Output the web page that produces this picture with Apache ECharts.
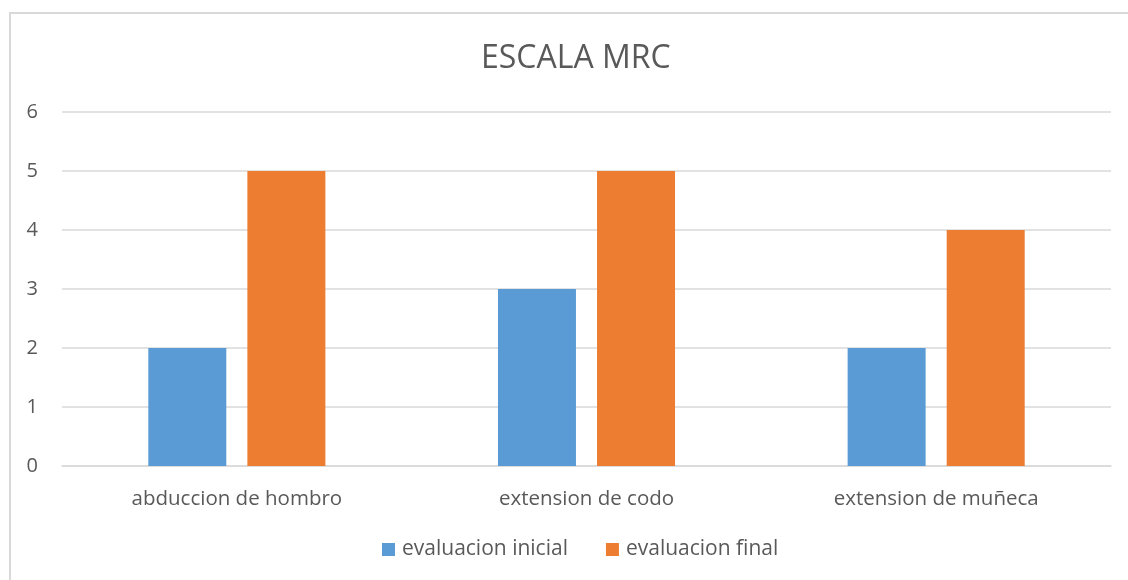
<!DOCTYPE html>
<html>
<head>
<meta charset="utf-8">
<script src="https://cdn.jsdelivr.net/npm/echarts@6/dist/echarts.min.js"></script>
<style>
html,body{margin:0;padding:0;background:#fff;overflow:hidden;}
#chart{width:1128px;height:580px;}
</style>
</head>
<body>
<div id="chart"></div>
<script>
const categories = ['abduccion de hombro', 'extension de codo', 'extension de muñeca'];
const inicial = [2, 3, 2];
const finalEval = [5, 5, 4];
const seriesNames = ['evaluacion inicial', 'evaluacion final'];
const yMin = 0, yMax = 6, yInterval = 1;

const FONT = '"Open Sans", sans-serif';
const chart = echarts.init(document.getElementById('chart'), null, {renderer: 'canvas'});
chart.setOption({
  animation: false,
  backgroundColor: '#ffffff',
  graphic: [{
    type: 'rect', z: -1, silent: true,
    shape: {x: 10, y: 13, width: 1300, height: 800},
    style: {fill: 'none', stroke: '#d9d9d9', lineWidth: 2}
  }],
  title: {
    text: 'ESCALA MRC', left: 476, top: 38,
    textStyle: {color: '#595959', fontFamily: FONT, fontSize: 32, fontWeight: 'normal'}
  },
  legend: {
    data: seriesNames, bottom: 15, left: 377, itemWidth: 13, itemHeight: 13, itemGap: 38,
    icon: 'rect',
    textStyle: {color: '#595959', fontFamily: FONT, fontSize: 21, padding: [0, 0, 0, 2]}
  },
  grid: {left: 62, right: 17, top: 112, bottom: 114, containLabel: false},
  xAxis: {
    type: 'category', data: categories,
    axisLine: {lineStyle: {color: '#d9d9d9', width: 1.5}},
    axisTick: {show: false},
    axisLabel: {color: '#595959', fontFamily: FONT, fontSize: 20.5, margin: 23}
  },
  yAxis: {
    type: 'value', min: yMin, max: yMax, interval: yInterval,
    axisLine: {show: false}, axisTick: {show: false},
    splitLine: {lineStyle: {color: '#d9d9d9', width: 1.5}},
    axisLabel: {color: '#595959', fontFamily: FONT, fontSize: 20, margin: 24}
  },
  series: [
    {name: seriesNames[0], type: 'bar', data: inicial, barWidth: 78, barGap: '27%',
     itemStyle: {color: '#5b9bd5'}},
    {name: seriesNames[1], type: 'bar', data: finalEval, barWidth: 78,
     itemStyle: {color: '#ed7d31'}}
  ]
});
</script>
</body>
</html>
